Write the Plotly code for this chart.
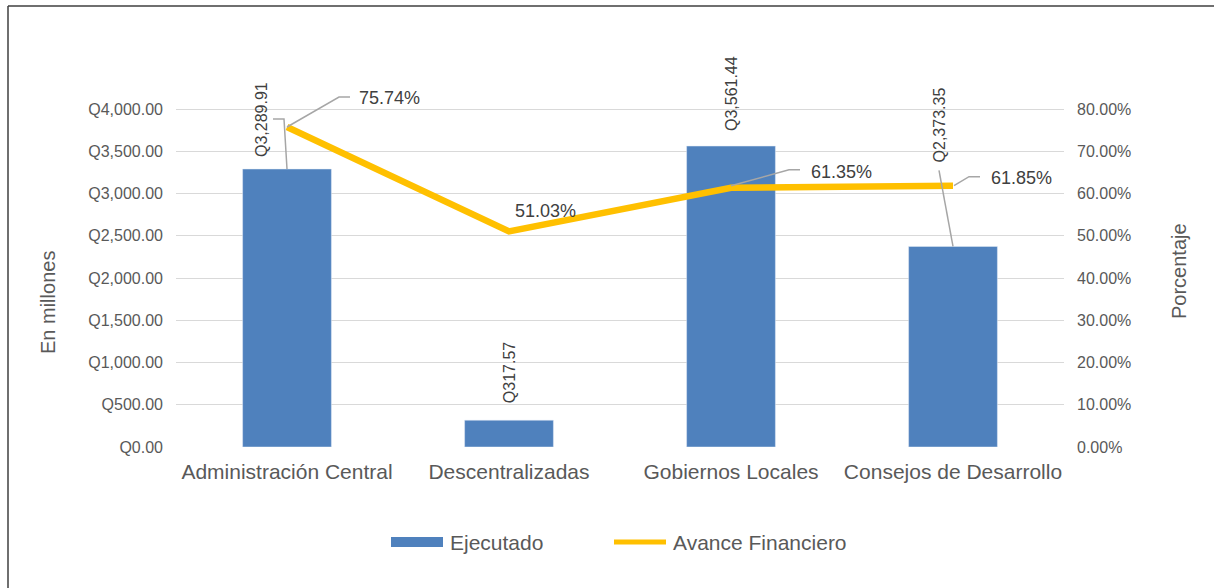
import plotly.graph_objects as go

# --- data ---
categorias = ["Administración Central", "Descentralizadas", "Gobiernos Locales", "Consejos de Desarrollo"]
ejecutado = [3289.91, 317.57, 3561.44, 2373.35]          # millones de quetzales
avance_pct = [75.74, 51.03, 61.35, 61.85]                 # porcentaje
ticks_q = [0, 500, 1000, 1500, 2000, 2500, 3000, 3500, 4000]
ticks_pct = [0, 0.1, 0.2, 0.3, 0.4, 0.5, 0.6, 0.7, 0.8]

W, H = 1214, 588
L, R, T, B = 176, 150, 67, 141
PW, PH = W - L - R, H - T - B
TOP_PX = 109            # pixel row of the highest tick
# extend the axes above the top tick so leader lines stay inside the plot area
frac = PH / (H - B - TOP_PX)
y_top = ticks_q[-1] * frac
y2_top = ticks_pct[-1] * frac

BAR = "#4F81BD"
GOLD = "#FFC000"
GRID = "#D9D9D9"
TXT = "#595959"
LBL = "#404040"
LEAD = "#A6A6A6"
FONT = "Liberation Sans, Arial, sans-serif"


def px(x):
    return (x - L) / PW


def py(y):
    return (H - B - y) / PH


idx = list(range(len(categorias)))
avance = [v / 100 for v in avance_pct]

fig = go.Figure()
fig.add_trace(go.Bar(x=idx, y=ejecutado, width=0.4, marker_color=BAR,
                     name="Ejecutado", yaxis="y", showlegend=False))
fig.add_trace(go.Scatter(x=idx, y=avance, mode="lines", name="Avance Financiero",
                         line=dict(color=GOLD, width=6.5), yaxis="y2", showlegend=False))

annotations = []
shapes = []

# bar value labels (rotated) with pixel offsets from the bar top
bar_off = [(-26, 49), (0, 47), (0, 52), (-14, 121)]
for i, (v, (dx, dy)) in enumerate(zip(ejecutado, bar_off)):
    annotations.append(dict(x=i, y=v, xref="x", yref="y", text=f"Q{v:,.2f}",
                            textangle=-90, showarrow=False, xanchor="center", yanchor="middle",
                            xshift=dx, yshift=dy, font=dict(size=16, color=LBL, family=FONT)))

# percentage labels
pct_off = [(102, 29), (36, 20), (110, 16), (68, 8)]
for i, (v, (dx, dy)) in enumerate(zip(avance, pct_off)):
    annotations.append(dict(x=i, y=v, xref="x", yref="y2", text=f"{v*100:.2f}%",
                            showarrow=False, xanchor="center", yanchor="middle",
                            xshift=dx, yshift=dy, font=dict(size=18, color=LBL, family=FONT)))

# leader lines (pixel paths anchored on the data points)
bar_leaders = {0: "M0,0 L-3,50 L-14,50", 3: "M0,0 L-14,76"}
for i, path in bar_leaders.items():
    shapes.append(dict(type="path", xref="x", yref="y", xsizemode="pixel", ysizemode="pixel",
                       xanchor=i, yanchor=ejecutado[i], path=path,
                       line=dict(color=LEAD, width=1.5)))
pct_leaders = {0: "M0,0 L52,30 L63,30", 2: "M0,2 L58,18 L69,18", 3: "M1,0 L16,9 L27,9"}
for i, path in pct_leaders.items():
    shapes.append(dict(type="path", xref="x", yref="y2", xsizemode="pixel", ysizemode="pixel",
                       xanchor=i, yanchor=avance[i], path=path,
                       line=dict(color=LEAD, width=1.5)))

# axis titles
annotations.append(dict(x=px(48), y=py(303), xref="paper", yref="paper", text="En millones",
                        textangle=-90, showarrow=False, xanchor="center", yanchor="middle",
                        font=dict(size=20, color=TXT, family=FONT)))
annotations.append(dict(x=px(1179), y=py(271), xref="paper", yref="paper", text="Porcentaje",
                        textangle=-90, showarrow=False, xanchor="center", yanchor="middle",
                        font=dict(size=20, color=TXT, family=FONT)))

# legend
shapes.append(dict(type="rect", xref="paper", yref="paper", x0=px(391), x1=px(443),
                   y0=py(547), y1=py(537), fillcolor=BAR, line=dict(width=0)))
annotations.append(dict(x=px(448), y=py(542), xref="paper", yref="paper", text="Ejecutado",
                        xanchor="left", yanchor="middle", showarrow=False,
                        font=dict(size=21, color=TXT, family=FONT)))
shapes.append(dict(type="line", xref="paper", yref="paper", x0=px(614), x1=px(666),
                   y0=py(542), y1=py(542), line=dict(color=GOLD, width=5)))
annotations.append(dict(x=px(671), y=py(542), xref="paper", yref="paper", text="Avance Financiero",
                        xanchor="left", yanchor="middle", showarrow=False,
                        font=dict(size=21, color=TXT, family=FONT)))

# chart frame
shapes.append(dict(type="line", xref="paper", yref="paper", x0=px(8), x1=px(8),
                   y0=py(6), y1=py(600), line=dict(color="#3F3F3F", width=1.5)))
shapes.append(dict(type="line", xref="paper", yref="paper", x0=px(8), x1=px(1230),
                   y0=py(6), y1=py(6), line=dict(color="#3F3F3F", width=1.5)))

fig.update_layout(
    width=W, height=H,
    margin=dict(l=L, r=R, t=T, b=B),
    paper_bgcolor="white", plot_bgcolor="white",
    font=dict(family=FONT, color=TXT),
    xaxis=dict(tickvals=idx, ticktext=categorias, range=[-0.5, len(categorias) - 0.5],
               showgrid=False, zeroline=False, showline=False, ticks="",
               tickfont=dict(size=21, color=TXT), ticklabelstandoff=10),
    yaxis=dict(range=[0, y_top], tickvals=ticks_q,
               ticktext=[f"Q{v:,.2f}" for v in ticks_q],
               showgrid=True, gridcolor=GRID, gridwidth=1, zeroline=False,
               ticks="", tickfont=dict(size=16, color=TXT), ticklabelstandoff=12),
    yaxis2=dict(range=[0, y2_top], tickvals=ticks_pct,
                ticktext=[f"{v*100:.2f}%" for v in ticks_pct], overlaying="y",
                side="right", showgrid=False, zeroline=False, ticks="",
                tickfont=dict(size=16, color=TXT), ticklabelstandoff=12),
    annotations=annotations,
    shapes=shapes,
)

fig.write_html("out.html")
